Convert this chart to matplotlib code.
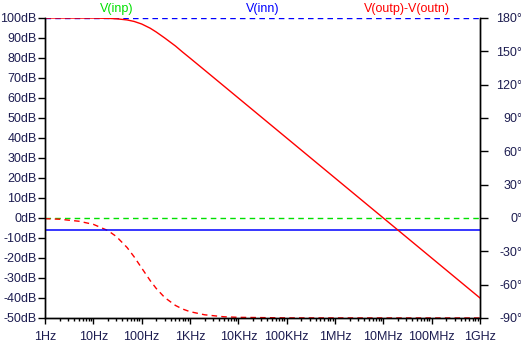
import numpy as np
import matplotlib
matplotlib.use('Agg')
import matplotlib.pyplot as plt

plt.rcParams['font.family'] = ['Liberation Sans', 'DejaVu Sans']

##-----------------------------------------
## data
##-----------------------------------------
freq_mag = [1, 10, 20, 30, 50, 70, 100, 150, 200, 300, 500, 700, 1e3, 2e3, 5e3, 1e9]
mag_out = [100.0, 99.96, 99.83, 99.62, 99.03, 98.27, 97.0, 94.9, 93.0, 90.0, 86.0, 83.0,
           79.96, 73.97, 66.02, -40.0]

freq_ph = [1, 2, 5, 10, 20, 30, 50, 70, 100, 150, 200, 300, 500, 700, 1e3, 2e3, 5e3, 1e4, 1e5, 1e9]
ph_out = [-0.6, -1.1, -2.9, -5.7, -11.3, -16.7, -26.6, -35.0, -45.0, -56.3, -63.4, -71.6,
          -78.7, -81.9, -84.3, -87.1, -88.9, -89.4, -89.9, -90.0]

freq_flat = [1, 1e9]
mag_inn = [-6.02, -6.02]
ph_inn = [180, 180]
ph_inp = [0, 0]

db_ticks = list(range(-50, 101, 10))
db_labels = ['%ddB' % v for v in db_ticks]
deg_ticks = list(range(-90, 181, 30))
deg_labels = ['%d\u00b0' % v for v in deg_ticks]
f_ticks = [1, 10, 100, 1e3, 1e4, 1e5, 1e6, 1e7, 1e8, 1e9]
f_labels = ['1Hz', '10Hz', '100Hz', '1KHz', '10KHz', '100KHz', '1MHz', '10MHz', '100MHz', '1GHz']

txt = '#1c1c50'
dash = (4, 3)

fig = plt.figure(figsize=(5.21, 3.44), dpi=100)
ax = fig.add_axes([45/521, 1-318/344, 435/521, 300/344])
ax2 = ax.twinx()
ax.set_zorder(ax2.get_zorder() + 1)
ax.patch.set_visible(False)

# phase traces (right axis)
ax2.plot(freq_flat, ph_inp, color='#00e000', lw=1.0, dashes=dash)
ax2.plot(freq_flat, ph_inn, color='#0000ff', lw=1.0, dashes=dash)
ax2.plot(freq_ph, ph_out, color='#ff0000', lw=1.0, dashes=dash, clip_on=False)

# magnitude traces (left axis)
ax.plot(freq_flat, mag_inn, color='#0000ff', lw=1.1)
ax.plot(freq_mag, mag_out, color='#ff0000', lw=1.0)

ax.set_xscale('log')
ax.set_xlim(1, 1e9)
ax.set_ylim(-50, 100)
ax2.set_ylim(-90, 180)

ax.set_xticks(f_ticks)
ax.set_xticklabels(f_labels)
ax.set_yticks(db_ticks)
ax.set_yticklabels(db_labels)
ax2.set_yticks(deg_ticks)
ax2.set_yticklabels(deg_labels)

for a in (ax, ax2):
    a.spines['top'].set_visible(False)
    for s in a.spines.values():
        s.set_color('black')
        s.set_linewidth(1.0)

ax.tick_params(axis='y', direction='out', length=5, width=1, pad=1, labelsize=9, labelcolor=txt)
ax.tick_params(axis='x', which='major', direction='out', length=4, width=1, pad=5, labelsize=9, labelcolor=txt)
ax.tick_params(axis='x', which='minor', direction='out', length=2.5, width=1)
ax2.tick_params(axis='y', direction='out', length=6, width=1, pad=24.5, labelsize=9, labelcolor=txt)
for lab in ax2.get_yticklabels():
    lab.set_horizontalalignment('right')

fig.text(117/521, 1-9/344, 'V(inp)', color='#00e000', fontsize=9, ha='center', va='center')
fig.text(263/521, 1-9/344, 'V(inn)', color='#0000ff', fontsize=9, ha='center', va='center')
fig.text(407/521, 1-9/344, 'V(outp)-V(outn)', color='#ff0000', fontsize=9, ha='center', va='center')

plt.savefig('out.png', dpi=100)
plt.close()
